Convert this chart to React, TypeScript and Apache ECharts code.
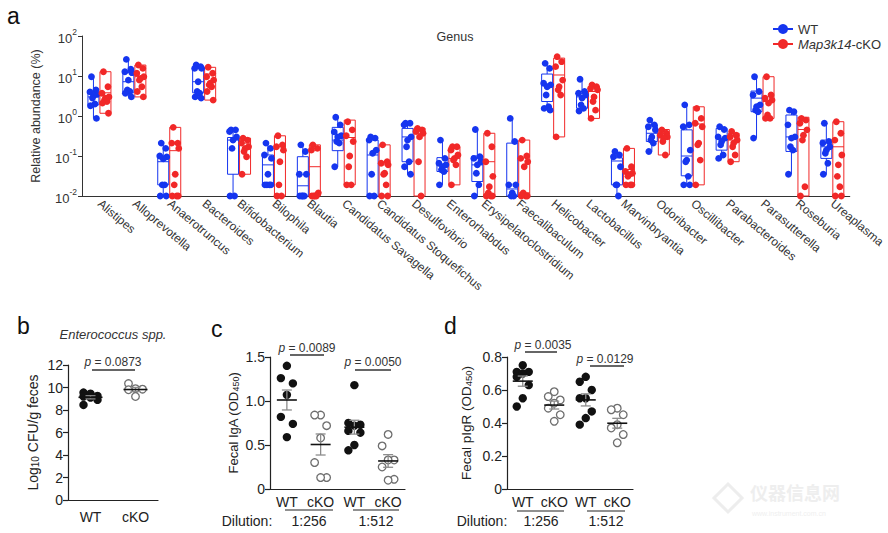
import React, { useEffect, useRef } from "react";
import * as echarts from "echarts";

// ---------- data: panel a (relative abundance, %) ----------
const GENERA = [
  "Alistipes", "Alloprevotella", "Anaerotruncus", "Bacteroides", "Bifidobacterium",
  "Bilophila", "Blautia", "Candidatus Savagella", "Candidatus Stoquefichus", "Desulfovibrio",
  "Enterorhabdus", "Erysipelatoclostridium", "Faecalibaculum", "Helicobacter", "Lactobacillus",
  "Marvinbryantia", "Odoribacter", "Oscillibacter", "Parabacteroides", "Parasutterella",
  "Roseburia", "Ureaplasma",
];

// [min, q1, median, q3, max]
const WT_BOX = [
  [0.87, 1.9, 3.0, 3.8, 9.6],
  [3.0, 3.8, 7.2, 12.1, 26],
  [0.01, 0.019, 0.072, 0.096, 0.21],
  [2.8, 3.8, 7.2, 17, 18.8],
  [0.01, 0.035, 0.25, 0.29, 0.45],
  [0.018, 0.018, 0.06, 0.106, 0.21],
  [0.01, 0.01, 0.018, 0.096, 0.19],
  [0.054, 0.136, 0.25, 0.52, 0.93],
  [0.01, 0.01, 0.106, 0.25, 0.3],
  [0.035, 0.072, 0.3, 0.49, 0.66],
  [0.019, 0.041, 0.06, 0.091, 0.25],
  [0.01, 0.023, 0.06, 0.1, 0.46],
  [0.01, 0.01, 0.015, 0.21, 0.87],
  [1.4, 2.3, 5.9, 11.2, 20.7],
  [1.33, 1.56, 3.0, 4.1, 8.3],
  [0.01, 0.019, 0.075, 0.09, 0.13],
  [0.13, 0.23, 0.37, 0.6, 0.79],
  [0.019, 0.032, 0.1, 0.45, 1.9],
  [0.087, 0.14, 0.28, 0.49, 0.54],
  [0.28, 1.28, 2.8, 4.2, 9.6],
  [0.035, 0.13, 0.3, 1.06, 1.4],
  [0.035, 0.087, 0.17, 0.25, 0.72],
];
const KO_BOX = [
  [1.17, 1.17, 3.8, 12.8, 12.8],
  [3.0, 3.0, 9.6, 18.8, 18.8],
  [0.01, 0.01, 0.136, 0.52, 0.52],
  [2.5, 2.5, 11.2, 16.5, 16.5],
  [0.035, 0.035, 0.21, 0.28, 0.28],
  [0.01, 0.01, 0.17, 0.32, 0.32],
  [0.01, 0.01, 0.054, 0.19, 0.19],
  [0.019, 0.019, 0.29, 0.79, 0.79],
  [0.01, 0.01, 0.06, 0.19, 0.19],
  [0.01, 0.01, 0.37, 0.5, 0.5],
  [0.019, 0.019, 0.087, 0.17, 0.17],
  [0.01, 0.01, 0.072, 0.37, 0.37],
  [0.01, 0.01, 0.012, 0.25, 0.25],
  [0.3, 0.3, 10.6, 28, 28],
  [0.87, 0.87, 4.1, 5.4, 5.4],
  [0.019, 0.019, 0.046, 0.155, 0.155],
  [0.106, 0.106, 0.3, 0.46, 0.46],
  [0.019, 0.019, 0.63, 1.7, 1.7],
  [0.072, 0.072, 0.25, 0.37, 0.37],
  [0.87, 0.87, 2.3, 9.6, 9.6],
  [0.01, 0.01, 0.46, 0.93, 0.93],
  [0.01, 0.01, 0.17, 0.72, 0.72],
];
const WT_POINTS = [
  [9.6, 4.5, 4.0, 3.5, 3.2, 2.8, 2.0, 1.8, 0.87],
  [26, 14.7, 12.8, 12.1, 7.9, 4.5, 4.1, 3.7, 3.0],
  [0.21, 0.155, 0.1, 0.095, 0.085, 0.019, 0.019, 0.01, 0.01],
  [18.8, 17.1, 15.5, 15.5, 7.2, 4.1, 3.7, 3.0, 2.8],
  [0.45, 0.45, 0.41, 0.3, 0.25, 0.155, 0.01, 0.01],
  [0.21, 0.155, 0.106, 0.087, 0.035, 0.019, 0.019, 0.019, 0.019],
  [0.19, 0.13, 0.035, 0.035, 0.01, 0.01, 0.01, 0.01],
  [0.93, 0.6, 0.4, 0.32, 0.3, 0.23, 0.21, 0.054],
  [0.3, 0.28, 0.25, 0.14, 0.117, 0.035, 0.01, 0.01],
  [0.66, 0.66, 0.6, 0.3, 0.25, 0.17, 0.072, 0.054, 0.035],
  [0.25, 0.087, 0.066, 0.06, 0.054, 0.045, 0.041, 0.019],
  [0.46, 0.096, 0.087, 0.072, 0.06, 0.037, 0.019, 0.01],
  [0.87, 0.23, 0.019, 0.019, 0.012, 0.01, 0.01],
  [20.7, 15.5, 6.6, 6.0, 5.4, 3.35, 1.7, 1.55, 1.4],
  [8.3, 4.1, 3.7, 3.35, 2.8, 1.9, 1.55, 1.33],
  [0.13, 0.106, 0.096, 0.054, 0.019, 0.019, 0.01],
  [0.79, 0.6, 0.54, 0.45, 0.3, 0.25, 0.21, 0.13],
  [1.9, 0.6, 0.54, 0.14, 0.079, 0.072, 0.031, 0.019, 0.019],
  [0.54, 0.46, 0.3, 0.28, 0.23, 0.19, 0.106, 0.087],
  [9.6, 4.1, 3.35, 1.9, 1.7, 1.4, 1.28, 0.28],
  [1.4, 1.28, 0.6, 0.3, 0.28, 0.17, 0.14, 0.035],
  [0.66, 0.23, 0.21, 0.17, 0.14, 0.117, 0.066, 0.035],
];
const KO_POINTS = [
  [12.8, 5.4, 3.7, 3.0, 2.8, 2.5, 2.3, 2.1, 1.17],
  [18.8, 15.5, 11.7, 9.6, 8.7, 7.9, 5.4, 4.1, 3.0],
  [0.52, 0.21, 0.21, 0.155, 0.035, 0.019, 0.01, 0.01, 0.01],
  [16.5, 11.7, 9.6, 7.9, 6.6, 6.0, 5.4, 4.1, 2.5],
  [0.28, 0.25, 0.21, 0.17, 0.155, 0.13, 0.096, 0.035],
  [0.32, 0.19, 0.17, 0.14, 0.072, 0.019, 0.01, 0.01],
  [0.19, 0.155, 0.14, 0.012, 0.01, 0.01, 0.01, 0.01],
  [0.72, 0.45, 0.32, 0.23, 0.1, 0.054, 0.019, 0.019],
  [0.19, 0.072, 0.066, 0.06, 0.037, 0.035, 0.019, 0.01, 0.01],
  [0.49, 0.45, 0.41, 0.37, 0.3, 0.072, 0.01],
  [0.17, 0.17, 0.14, 0.106, 0.087, 0.079, 0.06, 0.019],
  [0.37, 0.17, 0.072, 0.031, 0.017, 0.012, 0.01, 0.01, 0.01],
  [0.25, 0.1, 0.087, 0.072, 0.054, 0.012, 0.01, 0.01, 0.01],
  [30.4, 22.8, 17.1, 7.9, 5.4, 4.5, 3.35, 0.3],
  [6.0, 5.4, 4.9, 4.5, 3.0, 2.3, 1.4, 0.87],
  [0.155, 0.054, 0.041, 0.037, 0.034, 0.031, 0.019, 0.019, 0.019],
  [0.45, 0.37, 0.33, 0.3, 0.28, 0.23, 0.106],
  [1.55, 0.87, 0.66, 0.54, 0.21, 0.19, 0.079, 0.019],
  [0.41, 0.33, 0.3, 0.25, 0.21, 0.17, 0.106, 0.072],
  [9.6, 3.35, 2.8, 2.5, 2.1, 1.06, 0.87, 0.87],
  [0.87, 0.79, 0.66, 0.45, 0.33, 0.25, 0.017, 0.01],
  [0.72, 0.37, 0.25, 0.106, 0.06, 0.031, 0.017, 0.01, 0.01],
];

// ---------- data: panels b, c, d ----------
const GROUPS = ["WT", "cKO"];
const GROUPS4 = ["WT", "cKO", "WT", "cKO"];
const DILUTIONS = ["1:256", "1:512"];
const ENTERO_WT = [9.55, 9.45, 9.25, 9.2, 9.1, 8.9, 8.45];
const ENTERO_KO = [10.35, 9.9, 9.85, 9.8, 9.2];
const IGA_WT_256 = [1.4, 1.26, 1.2, 1.07, 0.82, 0.74, 0.59];
const IGA_KO_256 = [0.84, 0.84, 0.72, 0.58, 0.3, 0.13, 0.13];
const IGA_WT_512 = [1.18, 0.75, 0.73, 0.72, 0.66, 0.64, 0.5, 0.44];
const IGA_KO_512 = [0.62, 0.49, 0.33, 0.33, 0.25, 0.1, 0.11];
const PIGR_WT_256 = [0.75, 0.71, 0.71, 0.7, 0.68, 0.63, 0.55, 0.5];
const PIGR_KO_256 = [0.59, 0.56, 0.54, 0.52, 0.49, 0.45, 0.41];
const PIGR_WT_512 = [0.68, 0.65, 0.6, 0.55, 0.55, 0.47, 0.43, 0.39];
const PIGR_KO_512 = [0.49, 0.48, 0.45, 0.39, 0.37, 0.33, 0.28];
const P_B = ["0.0873"];
const P_C = ["0.0089", "0.0050"];
const P_D = ["0.0035", "0.0129"];

// ---------- styling ----------
const FONT = "'Liberation Sans', Arial, Helvetica, sans-serif";
const BLUE = "#1535ef";
const RED = "#f12828";
const AX = "#333";
const BOX_OFF = 6;
const BOX_W = 11;
const JIT_TOP = [-2, 2.5, -3.5, 3.5, 0, -1, 1.5, -3, 3];
const JIT_BOT = [0, -6, 6];
const JIT_B = [-7, 0, 7];

const meanSem = (a: number[]) => {
  const n = a.length;
  const m = a.reduce((s, v) => s + v, 0) / n;
  const sd = Math.sqrt(a.reduce((s, v) => s + (v - m) * (v - m), 0) / (n - 1));
  return [m, sd / Math.sqrt(n)];
};

const boxSeries = () => ({
  type: "custom",
  xAxisIndex: 0,
  yAxisIndex: 0,
  encode: { x: 0, y: [2, 3, 4, 5, 6] },
  z: 2,
  data: [
    ...WT_BOX.map((b, i) => [i, 0, ...b]),
    ...KO_BOX.map((b, i) => [i, 1, ...b]),
  ],
  renderItem: (_p: any, api: any) => {
    const i = api.value(0);
    const side = api.value(1);
    const cx = api.coord([i, 1])[0] + (side === 0 ? -BOX_OFF : BOX_OFF);
    const y = (k: number) => api.coord([i, api.value(k)])[1];
    const yMin = y(2), yQ1 = y(3), yMed = y(4), yQ3 = y(5), yMax = y(6);
    const c = side === 0 ? BLUE : RED;
    const hw = BOX_W / 2;
    const st = { stroke: c, lineWidth: 1, fill: "none" };
    return {
      type: "group",
      children: [
        { type: "rect", shape: { x: cx - hw, y: yQ3, width: BOX_W, height: yQ1 - yQ3 }, style: st },
        { type: "line", shape: { x1: cx - hw, y1: yMed, x2: cx + hw, y2: yMed }, style: st },
        { type: "line", shape: { x1: cx, y1: yQ3, x2: cx, y2: yMax }, style: st },
        { type: "line", shape: { x1: cx, y1: yQ1, x2: cx, y2: yMin }, style: st },
      ],
    };
  },
});

const topPoints = (name: string, pts: number[][], side: number, color: string) => ({
  type: "custom",
  name,
  xAxisIndex: 0,
  yAxisIndex: 0,
  encode: { x: 0, y: 1 },
  z: 3,
  data: pts.flatMap((vals, i) => vals.map((v, k) => [i, v, k])),
  renderItem: (_p: any, api: any) => {
    const i = api.value(0);
    const [x, y] = api.coord([i, api.value(1)]);
    const k = api.value(2);
    const cx = x + (side === 0 ? -BOX_OFF : BOX_OFF) + JIT_TOP[k % JIT_TOP.length];
    return { type: "circle", shape: { cx, cy: y, r: 3.4 }, style: { fill: color } };
  },
});

const botPoints = (idx: number, groups: number[][], jit: number[]) => ({
  type: "custom",
  xAxisIndex: idx,
  yAxisIndex: idx,
  encode: { x: 0, y: 1 },
  z: 3,
  data: groups.flatMap((vals, g) => [...vals].sort((a, b) => b - a).map((v, k) => [g, v, k])),
  renderItem: (_p: any, api: any) => {
    const g = api.value(0);
    const [x, y] = api.coord([g, api.value(1)]);
    const off = jit[api.value(2) % jit.length];
    const filled = g % 2 === 0;
    return {
      type: "circle",
      shape: { cx: x + off, cy: y, r: filled ? 4.2 : 3.8 },
      style: filled ? { fill: "#111" } : { fill: "#fff", stroke: "#6e6e6e", lineWidth: 1.3 },
    };
  },
});

const meanSeries = (idx: number, groups: number[][], half: number) => ({
  type: "custom",
  xAxisIndex: idx,
  yAxisIndex: idx,
  encode: { x: 0, y: 1 },
  z: 4,
  data: groups.map((vals, g) => {
    const [m, s] = meanSem(vals);
    return [g, m, m - s, m + s];
  }),
  renderItem: (_p: any, api: any) => {
    const g = api.value(0);
    const [x, ym] = api.coord([g, api.value(1)]);
    const ylo = api.coord([g, api.value(2)])[1];
    const yhi = api.coord([g, api.value(3)])[1];
    const sem = { stroke: "#8c8c8c", lineWidth: 1.3 };
    return {
      type: "group",
      children: [
        { type: "line", shape: { x1: x, y1: ylo, x2: x, y2: yhi }, style: sem },
        { type: "line", shape: { x1: x - 5, y1: ylo, x2: x + 5, y2: ylo }, style: sem },
        { type: "line", shape: { x1: x - 5, y1: yhi, x2: x + 5, y2: yhi }, style: sem },
        { type: "line", shape: { x1: x - half, y1: ym, x2: x + half, y2: ym }, style: { stroke: "#111", lineWidth: 1.6 } },
      ],
    };
  },
});

const subRich = (fs: number) => ({
  n: { fontSize: fs, lineHeight: 18, verticalAlign: "bottom", color: "#222", fontFamily: FONT },
  sub: { fontSize: fs - 4, lineHeight: 11, verticalAlign: "bottom", color: "#222", fontFamily: FONT },
});

const botX = (grid: number, data: string[], margin: number) => ({
  type: "category",
  gridIndex: grid,
  data,
  axisLine: { lineStyle: { color: "#222", width: 1.2 } },
  axisTick: { alignWithLabel: true, length: 5, lineStyle: { color: "#222", width: 1.2 } },
  axisLabel: { interval: 0, fontSize: 14, color: "#222", margin, fontFamily: FONT },
});

const botY = (
  grid: number, max: number, interval: number, name: string, gap: number, fs: number,
  fmt: (v: number) => string,
) => ({
  type: "value",
  gridIndex: grid,
  min: 0,
  max,
  interval,
  name,
  nameLocation: "middle",
  nameGap: gap,
  nameRotate: 90,
  nameTextStyle: { rich: subRich(fs) },
  axisLine: { show: true, lineStyle: { color: "#222", width: 1.2 } },
  axisTick: { show: true, length: 5, lineStyle: { color: "#222", width: 1.2 } },
  splitLine: { show: false },
  axisLabel: { fontSize: 14, color: "#222", margin: 5, fontFamily: FONT, formatter: fmt },
});

const txt = (text: string, x: number, y: number, o: any = {}) => ({
  type: "text",
  x,
  y,
  z: 10,
  style: {
    text,
    fontSize: 12,
    fontFamily: FONT,
    fill: "#222",
    align: "center",
    verticalAlign: "middle",
    ...o,
  },
});
const ln = (x1: number, y1: number, x2: number, y2: number, stroke = "#333", lineWidth = 1.5) => ({
  type: "line",
  z: 10,
  shape: { x1, y1, x2, y2 },
  style: { stroke, lineWidth },
});
const pRich = {
  i: { fontStyle: "italic", fontSize: 12, fontFamily: FONT, fill: "#333", color: "#333" },
  r: { fontSize: 12, fontFamily: FONT, fill: "#333", color: "#333" },
};
const pText = (p: string, x: number, y: number) =>
  txt(`{i|p}{r| = ${p}}`, x, y, { rich: pRich });

const App: React.FC = () => {
  const ref = useRef<HTMLDivElement>(null);
  useEffect(() => {
    if (!ref.current) return;
    const chart = echarts.init(ref.current, undefined, { renderer: "svg" });
    const option: any = {
      animation: false,
      backgroundColor: "#fff",
      textStyle: { fontFamily: FONT },
      grid: [
        { left: 82, top: 36, width: 770, height: 160 },
        { left: 68, top: 365, width: 90, height: 135 },
        { left: 270, top: 357, width: 135, height: 132 },
        { left: 507, top: 357, width: 126, height: 132 },
      ],
      xAxis: [
        {
          type: "category",
          gridIndex: 0,
          data: GENERA,
          axisLine: { lineStyle: { color: AX, width: 1 } },
          axisTick: { alignWithLabel: true, length: 4, lineStyle: { color: AX } },
          axisLabel: { rotate: -40, interval: 0, fontSize: 12, color: "#333", margin: 6, fontFamily: FONT },
        },
        botX(1, GROUPS, 10),
        botX(2, GROUPS4, 6),
        botX(3, GROUPS4, 6),
      ],
      yAxis: [
        {
          type: "log",
          gridIndex: 0,
          logBase: 10,
          min: 0.01,
          max: 100,
          splitNumber: 4,
          name: "Relative abundance (%)",
          nameLocation: "middle",
          nameGap: 40,
          nameTextStyle: { fontSize: 12.5, color: "#333", fontFamily: FONT },
          axisLine: { show: true, lineStyle: { color: AX } },
          axisTick: { show: true, length: 4, lineStyle: { color: AX } },
          splitLine: { show: false },
          axisLabel: {
            margin: 5,
            formatter: (v: number) => `{b|10}{s|${Math.round(Math.log10(v))}}`,
            rich: {
              b: { fontSize: 13, lineHeight: 17, verticalAlign: "bottom", color: "#333", fontFamily: FONT },
              s: { fontSize: 8.5, lineHeight: 9, verticalAlign: "top", color: "#333", fontFamily: FONT },
            },
          },
        },
        botY(1, 12, 2, "{n|Log}{sub|10}{n| CFU/g feces}", 28, 14, (v) => String(v)),
        botY(2, 1.5, 0.5, "{n|Fecal IgA (OD}{sub|450}{n|)}", 30, 13, (v) => (v === 0 ? "0" : v.toFixed(1))),
        botY(3, 0.8, 0.2, "{n|Fecal pIgR (OD}{sub|450}{n|)}", 34, 13.5, (v) => (v === 0 ? "0" : v.toFixed(1))),
      ],
      series: [
        boxSeries(),
        topPoints("WT", WT_POINTS, 0, BLUE),
        topPoints("Map3k14-cKO", KO_POINTS, 1, RED),
        botPoints(1, [ENTERO_WT, ENTERO_KO], JIT_B),
        meanSeries(1, [ENTERO_WT, ENTERO_KO], 12),
        botPoints(2, [IGA_WT_256, IGA_KO_256, IGA_WT_512, IGA_KO_512], JIT_BOT),
        meanSeries(2, [IGA_WT_256, IGA_KO_256, IGA_WT_512, IGA_KO_512], 10),
        botPoints(3, [PIGR_WT_256, PIGR_KO_256, PIGR_WT_512, PIGR_KO_512], JIT_BOT),
        meanSeries(3, [PIGR_WT_256, PIGR_KO_256, PIGR_WT_512, PIGR_KO_512], 10),
      ],
      graphic: [
        // panel letters & titles
        txt("a", 7, 16, { fontSize: 23, align: "left", fill: "#111" }),
        txt("b", 17, 326, { fontSize: 23, align: "left", fill: "#111" }),
        txt("c", 211, 329, { fontSize: 23, align: "left", fill: "#111" }),
        txt("d", 444, 326, { fontSize: 23, align: "left", fill: "#111" }),
        txt("Genus", 455, 37, { fontSize: 12.5, fill: "#333" }),
        txt("Enterococcus spp.", 113, 334, { fontSize: 13, fontStyle: "italic", fill: "#333" }),
        // legend
        ln(773, 29, 793, 29, BLUE, 2),
        { type: "circle", z: 10, shape: { cx: 783, cy: 29, r: 5 }, style: { fill: BLUE } },
        txt("WT", 798, 29, { fontSize: 13, align: "left", fill: "#333" }),
        ln(773, 44, 793, 44, RED, 2),
        { type: "circle", z: 10, shape: { cx: 783, cy: 44, r: 5 }, style: { fill: RED } },
        txt("{i|Map3k14}{r|-cKO}", 798, 44, {
          align: "left",
          rich: {
            i: { fontStyle: "italic", fontSize: 13, fontFamily: FONT, fill: "#333", color: "#333" },
            r: { fontSize: 13, fontFamily: FONT, fill: "#333", color: "#333" },
          },
        }),
        // p values
        pText(P_B[0], 113, 362),
        ln(92, 370, 135, 370),
        pText(P_C[0], 307, 348),
        ln(290, 355, 324, 355),
        pText(P_C[1], 373, 362),
        ln(355, 370, 391, 370),
        pText(P_D[0], 543, 345),
        ln(525, 352, 557, 352),
        pText(P_D[1], 605, 359),
        ln(590, 366, 624, 366),
        // dilution labels
        txt("Dilution:", 247, 521, { fontSize: 14 }),
        ln(285, 510, 333, 510, "#222", 1.2),
        ln(353, 510, 399, 510, "#222", 1.2),
        txt(DILUTIONS[0], 309, 521, { fontSize: 14 }),
        txt(DILUTIONS[1], 376, 521, { fontSize: 14 }),
        txt("Dilution:", 482, 521, { fontSize: 14 }),
        ln(517, 511, 564, 511, "#222", 1.2),
        ln(587, 511, 625, 511, "#222", 1.2),
        txt(DILUTIONS[0], 541, 521, { fontSize: 14 }),
        txt(DILUTIONS[1], 606, 521, { fontSize: 14 }),
        // faint watermark
        {
          type: "polygon",
          z: 0,
          shape: { points: [[728, 484], [742, 498], [728, 512], [714, 498]] },
          style: { fill: "none", stroke: "#ededed", lineWidth: 3 },
        },
        txt("仪器信息网", 750, 492, {
          align: "left",
          fontSize: 18,
          fontWeight: "bold",
          fontFamily: "'Noto Sans CJK SC', sans-serif",
          fill: "#eeeeee",
        }),
        txt("www.instrument.com.cn", 752, 513, { align: "left", fontSize: 7, fill: "#efefef" }),
      ],
    };
    chart.setOption(option);
    return () => chart.dispose();
  }, []);
  return (
    <div
      ref={ref}
      style={{ position: "fixed", left: 0, top: 0, width: 888, height: 533, background: "#fff" }}
    />
  );
};

export default App;
